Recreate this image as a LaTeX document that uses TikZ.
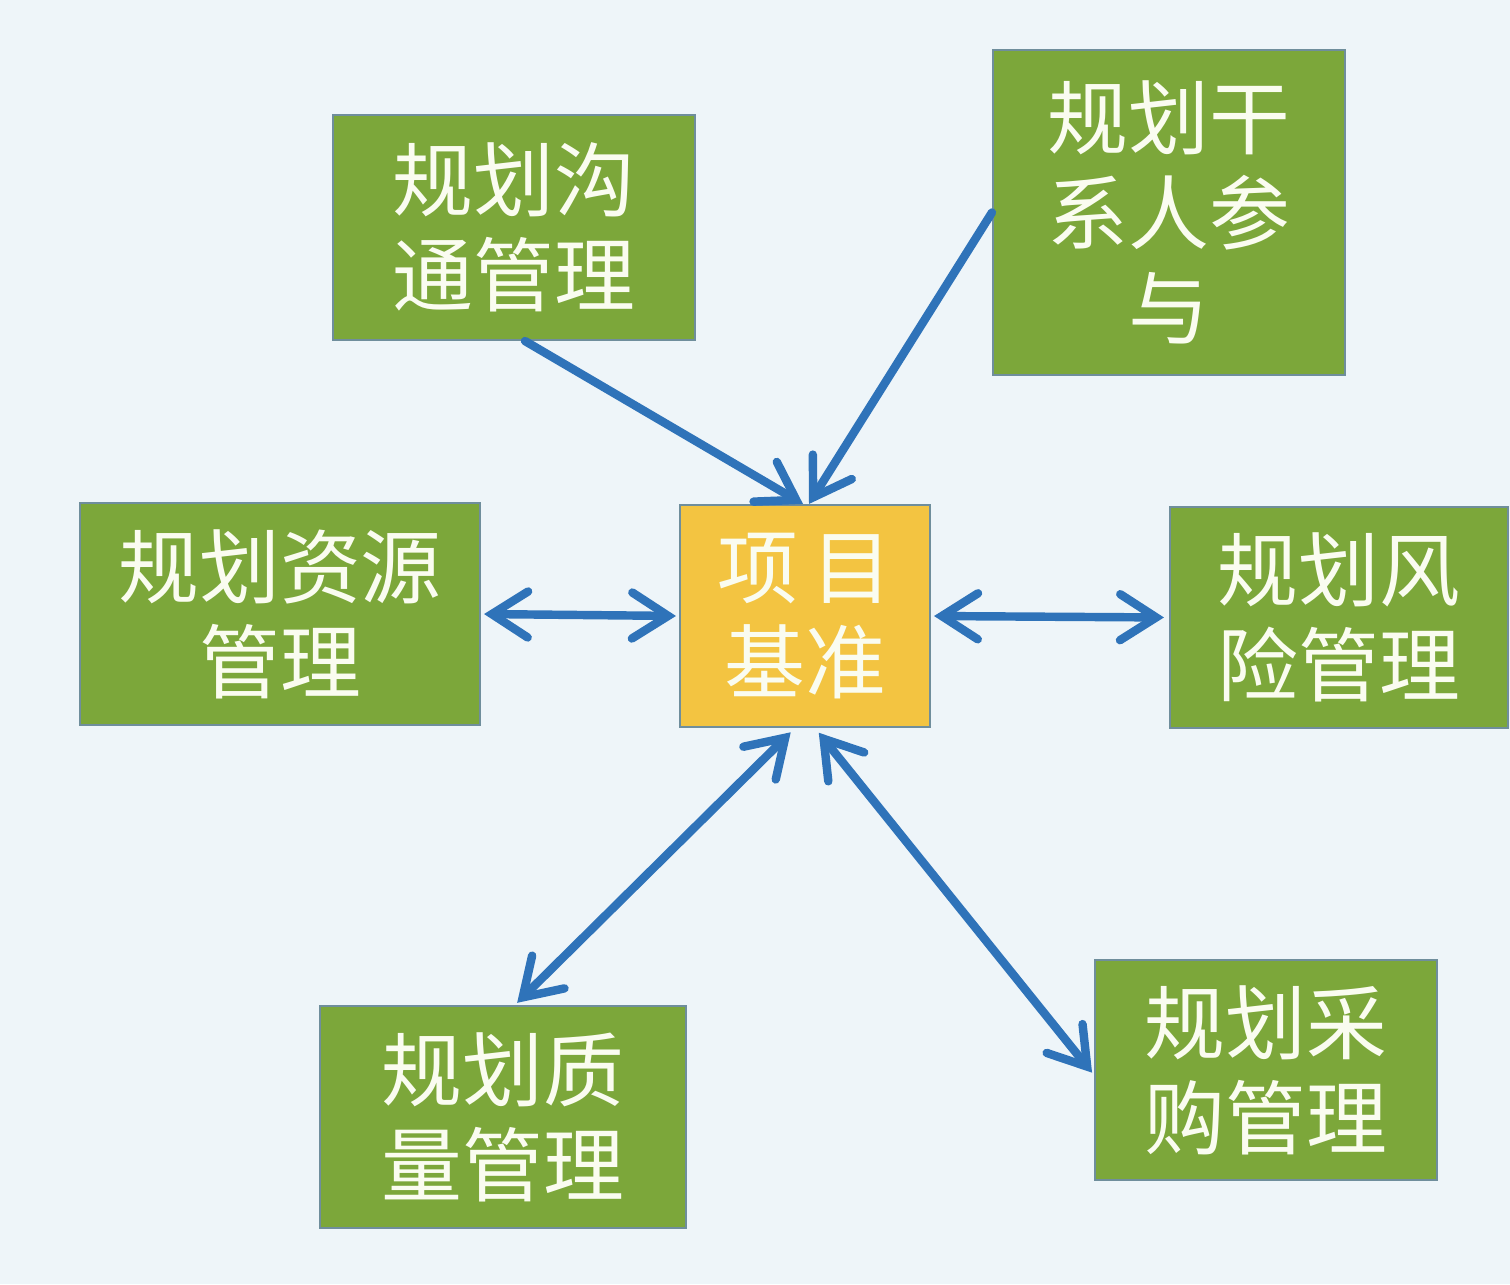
\documentclass[tikz,border=0pt]{standalone}
\usepackage{fontspec}
\newfontfamily\cjk{Noto Sans CJK SC}
\usetikzlibrary{calc,positioning,arrows.meta}
\definecolor{PlanGreen}{HTML}{7CA73A}
\definecolor{BaseGold}{HTML}{F3C441}
\definecolor{EdgeGrey}{HTML}{6F8E9C}
\definecolor{LinkBlue}{HTML}{2F73B9}
\definecolor{SlideBg}{HTML}{EEF5F9}
\definecolor{LabelWhite}{HTML}{FAFCF0}
\tikzset{
  boxNode/.style={rectangle, draw=EdgeGrey, line width=0.6pt, inner sep=0pt, align=center, text=LabelWhite, font=\cjk\fontsize{23pt}{27pt}\selectfont},
  planNode/.style={boxNode, fill=PlanGreen},
  baseNode/.style={boxNode, fill=BaseGold},
  link/.style={-{Straight Barb[length=3.6mm, width=4.6mm, line cap=round]}, draw=LinkBlue, line width=2.4pt, line cap=round},
  biLink/.style={link, {Straight Barb[length=3.6mm, width=4.6mm, line cap=round]}-{Straight Barb[length=3.6mm, width=4.6mm, line cap=round]}}
}
\begin{document}
\begin{tikzpicture}
  % fondo
  \fill[SlideBg] (0,0) rectangle (15.10,12.84);
  \useasboundingbox (0,0) rectangle (15.10,12.84);

  % nodos
  \node[baseNode, minimum width=2.50cm, minimum height=2.22cm] (base) at (8.05, 6.68) {项\,目\\基准};
  \node[planNode, minimum width=3.62cm, minimum height=2.25cm] (comm) at (5.14, 10.565) {规划沟\\通管理};
  \node[planNode, minimum width=3.52cm, minimum height=3.25cm] (stake) at (11.69, 10.715) {规划干\\系人参\\与};
  \node[planNode, minimum width=4.00cm, minimum height=2.22cm] (res) at (2.80, 6.70) {规划资源\\管理};
  \node[planNode, minimum width=3.38cm, minimum height=2.21cm] (risk) at (13.39, 6.665) {规划风\\险管理};
  \node[planNode, minimum width=3.66cm, minimum height=2.22cm] (qual) at (5.03, 1.67) {规划质\\量管理};
  \node[planNode, minimum width=3.42cm, minimum height=2.20cm] (proc) at (12.66, 2.14) {规划采\\购管理};

  % conexiones
  \draw[link] ([xshift=0.11cm]comm.south) -- ([xshift=-0.02cm]base.north);
  \draw[link] (stake.west) -- ([xshift=0.04cm]base.north);
  \draw[biLink, shorten <=0.03cm, shorten >=0.03cm] (res.east) -- (base.west);
  \draw[biLink, shorten <=0.03cm, shorten >=0.05cm] (base.east) -- (risk.west);
  \draw[biLink, shorten <=0.06cm, shorten >=0.03cm] ([xshift=-0.1cm]base.south) -- ([xshift=0.12cm]qual.north);
  \draw[biLink, shorten <=0.06cm, shorten >=0.03cm] ([xshift=0.1cm]base.south) -- ([yshift=-0.05cm]proc.west);
\end{tikzpicture}
\end{document}
